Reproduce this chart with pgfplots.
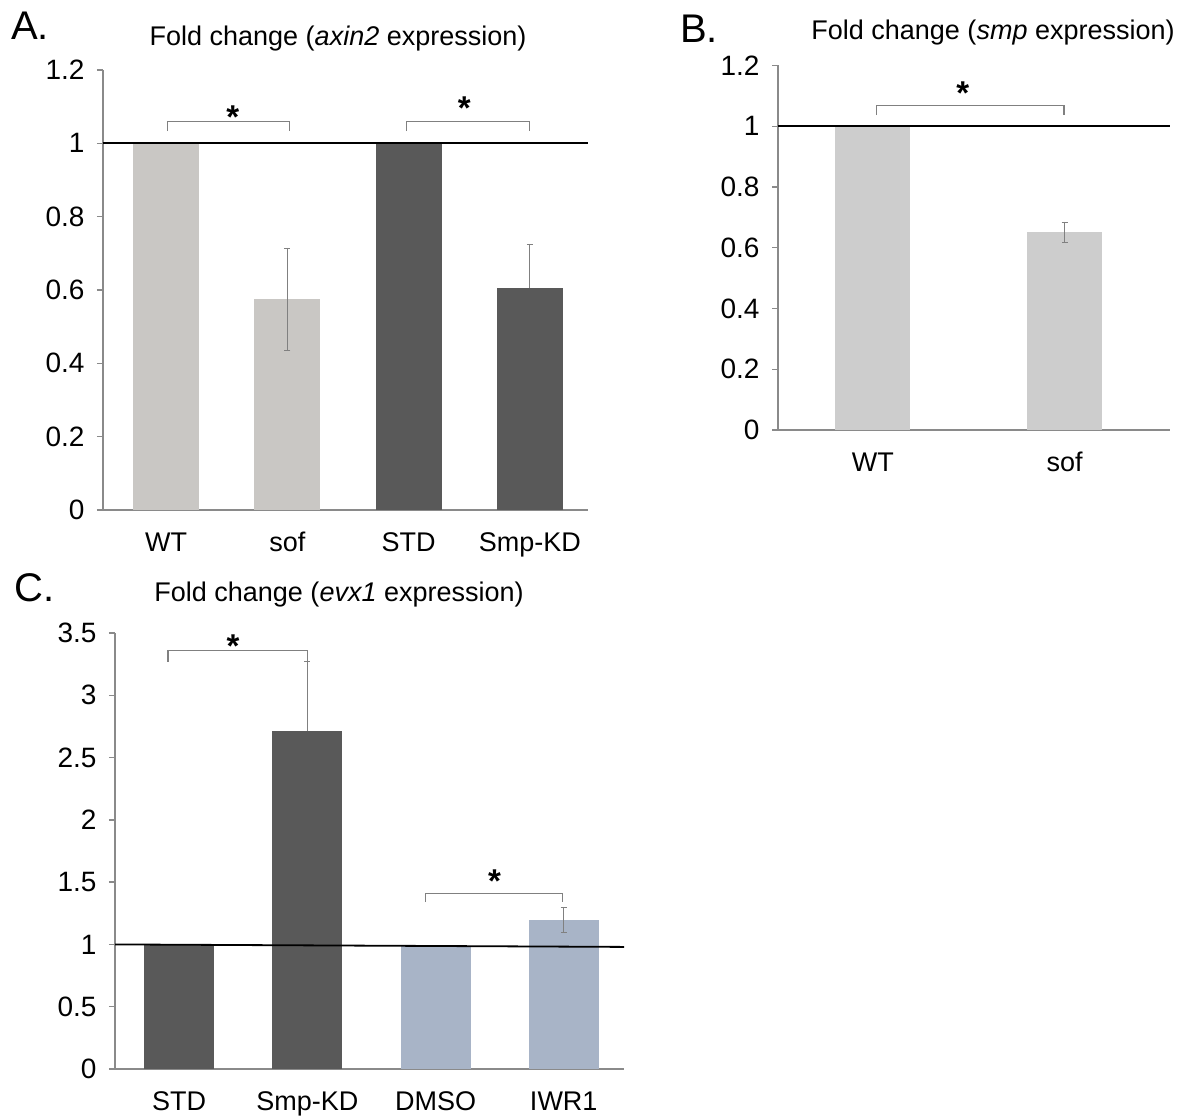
\documentclass[border=0pt]{standalone}
\usepackage{fontspec}
\setmainfont{Liberation Sans}
\usepackage{pgfplots}
\pgfplotsset{compat=1.18}

\definecolor{lightbar}{HTML}{C9C7C4}
\definecolor{darkbar}{HTML}{595959}
\definecolor{midbar}{HTML}{CDCDCD}
\definecolor{bluebar}{HTML}{A8B4C7}
\definecolor{axisgray}{HTML}{8A8A8A}
\definecolor{errgray}{HTML}{808080}

\pgfplotsset{
  panel/.style={
    scale only axis,
    axis x line*=bottom, axis y line*=left,
    axis line style={axisgray, line width=1.3pt},
    xtick style={draw=none},
    ytick style={axisgray, line width=1.3pt},
    major tick length=6pt, tick align=outside,
    ymin=0,
    /pgf/number format/assume math mode=true,
    yticklabel style={font=\fontsize{28}{32}\selectfont, xshift=-9pt},
    xticklabel style={font=\fontsize{27}{32}\selectfont, text height=20pt, text depth=6pt, yshift=-12pt},
    clip=false,
  },
  mybar/.style={ybar, bar shift=0pt, draw=none},
  refline/.style={black, line width=1.8pt},
}
\tikzset{
  brk/.style={errgray, line width=1.2pt},
  star/.style={anchor=base, font=\fontsize{33}{33}\selectfont\bfseries},
  ttl/.style={anchor=base, font=\fontsize{27}{32}\selectfont},
  lett/.style={anchor=base west, inner sep=0pt, font=\fontsize{40}{44}\selectfont},
}

\begin{document}
\begin{tikzpicture}
\useasboundingbox (0pt,0pt) rectangle (1181pt,1117pt);

% ---- A: axin2
\begin{axis}[panel, at={(103pt,607pt)}, anchor=south west,
    width=485pt, height=440pt,
    xmin=-0.52, xmax=3.48, ymax=1.2,
    ytick={0,0.2,0.4,0.6,0.8,1,1.2},
    xtick={0,1,2,3}, xticklabels={WT, sof, STD, Smp-KD}]
\addplot[mybar, bar width=66pt, fill=lightbar] coordinates {(0,1)};
\addplot[mybar, bar width=66pt, fill=lightbar,
    error bars/.cd, y dir=both, y explicit,
    error bar style={errgray, line width=1.2pt},
    error mark options={rotate=90, mark size=3pt, errgray}]
  coordinates {(1,0.575) +- (0,0.14)};
\addplot[mybar, bar width=66pt, fill=darkbar] coordinates {(2,1)};
\addplot[mybar, bar width=66pt, fill=darkbar,
    error bars/.cd, y dir=plus, y explicit,
    error bar style={errgray, line width=1.2pt},
    error mark options={rotate=90, mark size=3pt, errgray}]
  coordinates {(3,0.605) +- (0,0.12)};
\addplot[refline] coordinates {(-0.52,1) (3.48,1)};
\draw[brk] (axis cs:0.01,1.033) |- (axis cs:1.02,1.06) -- (axis cs:1.02,1.033);
\draw[brk] (axis cs:1.98,1.033) |- (axis cs:3.0,1.06) -- (axis cs:3.0,1.033);
\node[star] at (axis cs:0.55,1.04) {*};
\node[star] at (axis cs:2.46,1.064) {*};
\end{axis}

% ---- B: smp
\begin{axis}[panel, at={(778pt,687pt)}, anchor=south west,
    width=392pt, height=364.5pt,
    xmin=-0.495, xmax=1.55, ymax=1.2,
    ytick={0,0.2,0.4,0.6,0.8,1,1.2},
    xtick={0,1}, xticklabels={WT, sof}]
\addplot[mybar, bar width=75pt, fill=midbar] coordinates {(0,1)};
\addplot[mybar, bar width=75pt, fill=midbar,
    error bars/.cd, y dir=both, y explicit,
    error bar style={errgray, line width=1.2pt},
    error mark options={rotate=90, mark size=3pt, errgray}]
  coordinates {(1,0.652) +- (0,0.033)};
\addplot[refline] coordinates {(-0.495,1) (1.55,1)};
\draw[brk] (axis cs:0.02,1.037) |- (axis cs:0.997,1.067) -- (axis cs:0.997,1.037);
\node[star] at (axis cs:0.469,1.07) {*};
\end{axis}

% ---- C: evx1
\begin{axis}[panel, at={(115pt,48pt)}, anchor=south west,
    width=509pt, height=436pt,
    xmin=-0.5, xmax=3.47, ymax=3.5,
    ytick={0,0.5,1,1.5,2,2.5,3,3.5},
    xtick={0,1,2,3}, xticklabels={STD, Smp-KD, DMSO, IWR1}]
\addplot[mybar, bar width=70pt, fill=darkbar] coordinates {(0,1)};
\addplot[mybar, bar width=70pt, fill=darkbar,
    error bars/.cd, y dir=plus, y explicit,
    error bar style={errgray, line width=1.2pt},
    error mark options={rotate=90, mark size=3pt, errgray}]
  coordinates {(1,2.71) +- (0,0.56)};
\addplot[mybar, bar width=70pt, fill=bluebar] coordinates {(2,0.99)};
\addplot[mybar, bar width=70pt, fill=bluebar,
    error bars/.cd, y dir=both, y explicit,
    error bar style={errgray, line width=1.2pt},
    error mark options={rotate=90, mark size=3pt, errgray}]
  coordinates {(3,1.20) +- (0,0.10)};
\addplot[refline] coordinates {(-0.5,1) (3.47,0.98)};
\draw[brk] (axis cs:-0.086,3.27) |- (axis cs:1.0,3.36) -- (axis cs:1.0,3.27);
\draw[brk] (axis cs:1.92,1.34) |- (axis cs:2.99,1.41) -- (axis cs:2.99,1.34);
\node[star] at (axis cs:0.42,3.3) {*};
\node[star] at (axis cs:2.46,1.42) {*};
\end{axis}

% titles and panel letters
\node[ttl] at (338pt,1071pt) {Fold change (\textit{axin2} expression)};
\node[ttl] at (993pt,1077pt) {Fold change (\textit{smp} expression)};
\node[ttl] at (339pt,515pt) {Fold change (\textit{evx1} expression)};
\node[lett] at (11pt,1077pt) {A.};
\node[lett] at (680pt,1074pt) {B.};
\node[lett] at (14pt,515pt) {C.};
\end{tikzpicture}
\end{document}
